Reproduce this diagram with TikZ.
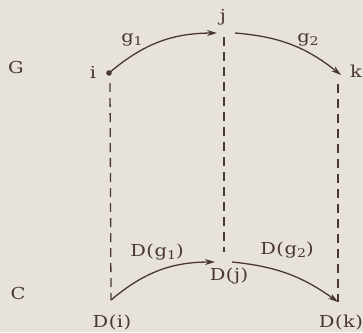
\documentclass[tikz,border=0pt]{standalone}
\usetikzlibrary{arrows.meta}
\usepackage{fontspec}
\setmainfont[FakeStretch=1.18,LetterSpace=3]{DejaVu Serif}
\definecolor{bg}{HTML}{E7E3DB}
\definecolor{ink}{HTML}{4A3636}
\newcommand\lowsub[1]{\raisebox{-0.35ex}{\fontsize{12}{13}\selectfont #1}}
\begin{document}
\begin{tikzpicture}[x=1pt,y=-1pt,
  lbl/.style={inner sep=0pt,text=ink,font=\fontsize{16.5}{18}\selectfont},
  arc/.style={draw=ink,line width=1.3pt,-{Stealth[length=10pt,width=6pt]}},
  dsh/.style={draw=ink,line width=1.3pt,dash pattern=on 9pt off 6pt}]
\fill[bg] (0,0) rectangle (363,332);
\useasboundingbox (0,0) rectangle (363,332);
% top row
\node[lbl] (G) at (16,67) {G};
\node[lbl] (il) at (93,72) {i};
\coordinate (i) at (109,73);
\fill[ink] (i) circle (2.8pt);
\node[lbl] (j) at (223,17) {j};
\coordinate (jin) at (217,33);
\coordinate (jout) at (235,33);
\coordinate (k) at (341,75);
\node[lbl] (kl) at (356,71) {k};
\draw[arc] (i) to[bend left=20] (jin);
\draw[arc] (jout) to[bend left=17] (k);
\node[lbl] (g1) at (132,40) {g\lowsub{1}};
\node[lbl] (g2) at (308,40) {g\lowsub{2}};
% bottom row
\node[lbl] (C) at (18,293) {C};
\coordinate (Di) at (111,300);
\coordinate (Djin) at (215,262);
\coordinate (Djout) at (232,262);
\coordinate (Dk) at (338,302);
\node[lbl] (Dil) at (112,323) {D(i)};
\node[lbl] (Djl) at (229,276) {D(j)};
\node[lbl] (Dkl) at (341,323) {D(k)};
\node[lbl] (Dg1) at (157,252) {D(g\lowsub{1})};
\node[lbl] (Dg2) at (287,250) {D(g\lowsub{2})};
\draw[arc] (Di) to[bend left=20] (Djin);
\draw[arc] (Djout) to[bend left=15] (Dk);
% dashed verticals
\coordinate (itop) at (110,83);
\coordinate (jtop) at (224,37);
\coordinate (jbot) at (224,252);
\coordinate (ktop) at (338,84);
\draw[dsh] (itop) -- (Di);
\draw[dsh] (jtop) -- (jbot);
\draw[dsh] (ktop) -- (Dk);
\end{tikzpicture}
\end{document}
